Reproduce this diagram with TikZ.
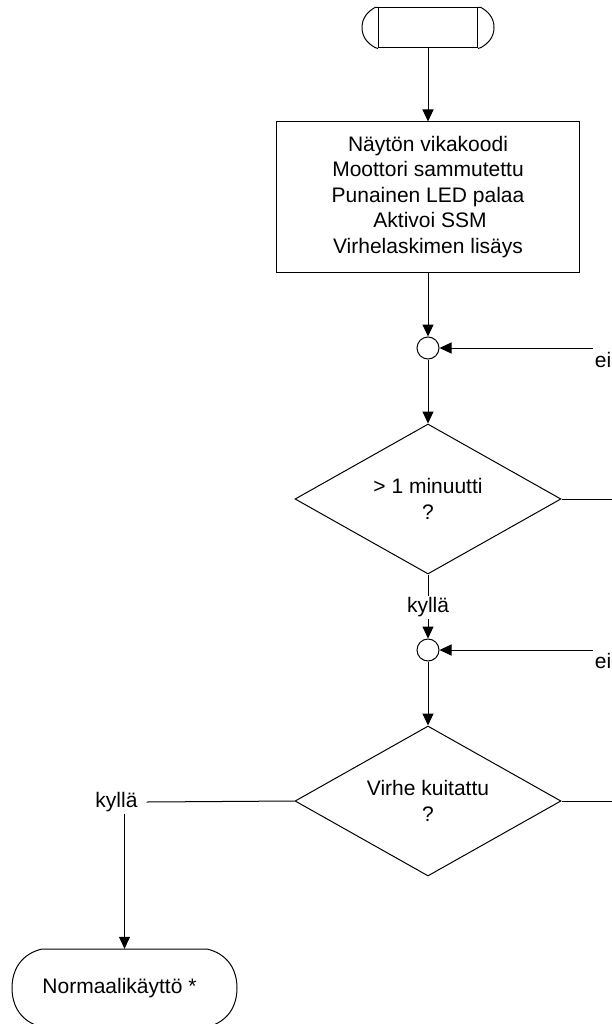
\documentclass[tikz,border=0pt]{standalone}
\usepackage{fontspec}
\setmainfont{Liberation Sans}
\usetikzlibrary{arrows.meta,shapes.geometric,calc}
\begin{document}
\begin{tikzpicture}[x=1pt,y=-1pt,
  every node/.style={font=\fontsize{21}{25.5}\selectfont},
  line/.style={draw=black,line width=1pt},
  arr/.style={line,-{Triangle[length=12pt,width=11pt]}},
  termbox/.style={draw,line width=1pt,minimum width=99pt,minimum height=40pt,inner sep=0pt},
  procbox/.style={draw,line width=1pt,minimum width=303pt,minimum height=150pt,align=center,inner sep=0pt},
  decision/.style={draw,line width=1pt,diamond,minimum width=266pt,minimum height=150pt,aspect=1.77,inner sep=0pt,align=center},
  junction/.style={draw,line width=1pt,circle,minimum size=22pt,inner sep=0pt},
  lbl/.style={inner xsep=2pt,inner ysep=2pt}
]
\useasboundingbox (0,0) rectangle (612,1024);
\clip (0,0) rectangle (612,1024);

% start terminator
\node[termbox] (t1) at (428,28) {};
\draw[line] (t1.north west) -- ++(-3,0) .. controls ++(-7,4) and ++(0,-10) .. ++(-13,20)
  .. controls ++(0,10) and ++(-7,-4) .. ++(13,20) -- (t1.south west);
\draw[line] (t1.north east) -- ++(3,0) .. controls ++(7,4) and ++(0,-10) .. ++(13,20)
  .. controls ++(0,10) and ++(7,-4) .. ++(-13,20) -- (t1.south east);

% process box
\node[procbox] (b) at (428,197) {Näytön vikakoodi\\Moottori sammutettu\\Punainen LED palaa\\\hspace*{4pt}Aktivoi SSM\\Virhelaskimen lisäys};

% first junction and decision
\node[junction] (c1) at (428,348) {};
\coordinate (e1) at (593,348);
\node[inner sep=0pt] (ei1) at (603,359.5) {ei};
\node[decision] (d1) at (428,499) {> 1 minuutti\\?};
\coordinate (r1) at (612,499);
\node[lbl] (k1) at (428,607.5) {kyllä};

% second junction and decision
\node[junction] (c2) at (428,650) {};
\coordinate (e2) at (593,650);
\node[inner sep=0pt] (ei2) at (603,660.5) {ei};
\node[decision] (d2) at (428,801) {Virhe kuitattu\\?};
\coordinate (r2) at (612,801);
\node[inner xsep=9pt,inner ysep=2pt] (k2) at (116.5,802) {kyllä};

% end terminator
\node[minimum width=225pt,minimum height=78pt,inner sep=0pt] (t2) at (124.5,988) {Normaalikäyttö *\hspace*{10pt}};
\draw[line] (42,949) -- (207,949) .. controls (228,954) and (237,970) .. (237,988)
  .. controls (237,1006) and (228,1022) .. (207,1027) -- (42,1027)
  .. controls (21,1022) and (12,1006) .. (12,988)
  .. controls (12,970) and (21,954) .. (42,949) -- cycle;

% connectors
\draw[arr] (t1.south) -- (b.north);
\draw[arr] (b.south) -- (c1.north);
\draw[arr] (e1) -- (c1.east);
\draw[arr] (c1.south) -- (d1.north);
\draw[line] (d1.east) -- (r1);
\draw[line] (d1.south) -- (k1.north);
\draw[arr] (k1.south) -- (c2.north);
\draw[arr] (e2) -- (c2.east);
\draw[arr] (c2.south) -- (d2.north);
\draw[line] (d2.east) -- (r2);
\draw[line] (d2.west) -- (k2.east);
\draw[arr] (k2.south -| t2.north) -- (t2.north);
\end{tikzpicture}
\end{document}
